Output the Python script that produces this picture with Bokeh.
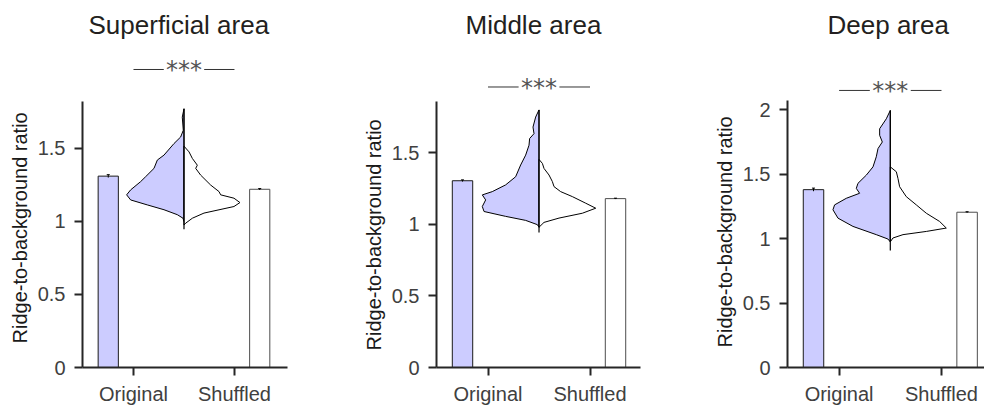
from bokeh.plotting import figure
from bokeh.layouts import row
from bokeh.models import FixedTicker, Range1d, Title
from bokeh.core.properties import value
from bokeh.embed import file_html
from bokeh.resources import INLINE

# ---------------- data ----------------
titles = ["Superficial area", "Middle area", "Deep area"]
y_label = "Ridge-to-background ratio"
categories = ["Original", "Shuffled"]
category_x = [1, 2]
bar_x = [0.75, 2.25]
violin_x = 1.5

orig_mean = [1.31, 1.305, 1.38]
shuf_mean = [1.22, 1.18, 1.205]
orig_err = [0.010, 0.006, 0.012]
shuf_err = [0.005, 0.003, 0.004]

sig_y = [2.04, 1.96, 2.15]
sig_text = "***"

y_ticks = [[0, 0.5, 1, 1.5], [0, 0.5, 1, 1.5], [0, 0.5, 1, 1.5, 2]]
y_axis_top = [1.82, 1.86, 2.07]
y_view_top = [2.170, 2.215, 2.460]
x_view = [(0.495, 2.525), (0.495, 2.495), (0.496, 2.42)]

# violin half profiles: value levels and half widths (x units)
v1_orig_y = [1.771, 1.714, 1.624, 1.578, 1.533, 1.454, 1.42, 1.363, 1.306, 1.272, 1.216, 1.182, 1.147, 1.113, 1.08, 1.046, 1.022, 1.0]
v1_orig_w = [0, 0.017, 0.007, 0.033, 0.099, 0.198, 0.264, 0.297, 0.38, 0.43, 0.528, 0.568, 0.528, 0.363, 0.198, 0.066, 0.01, 0]
v1_shuf_y = [1.515, 1.476, 1.431, 1.385, 1.363, 1.317, 1.249, 1.204, 1.182, 1.159, 1.129, 1.102, 1.057, 1.022, 0.988, 0.975]
v1_shuf_w = [0, 0.05, 0.083, 0.132, 0.116, 0.165, 0.264, 0.347, 0.363, 0.495, 0.554, 0.495, 0.198, 0.083, 0.017, 0]

v2_orig_y = [1.80, 1.75, 1.68, 1.634, 1.60, 1.553, 1.484, 1.415, 1.333, 1.276, 1.229, 1.206, 1.171, 1.125, 1.09, 1.056, 1.028, 0.998, 0.98]
v2_orig_w = [0, 0.033, 0.059, 0.049, 0.092, 0.098, 0.131, 0.18, 0.229, 0.327, 0.458, 0.556, 0.523, 0.556, 0.539, 0.327, 0.131, 0.016, 0]
v2_shuf_y = [1.454, 1.426, 1.391, 1.345, 1.299, 1.264, 1.229, 1.194, 1.148, 1.113, 1.078, 1.044, 1.014, 0.98]
v2_shuf_w = [0, 0.033, 0.049, 0.098, 0.131, 0.147, 0.212, 0.327, 0.458, 0.556, 0.425, 0.196, 0.049, 0]

v3_orig_y = [1.995, 1.93, 1.853, 1.802, 1.75, 1.699, 1.635, 1.557, 1.493, 1.429, 1.39, 1.352, 1.313, 1.262, 1.224, 1.159, 1.095, 1.031, 0.997, 0.975]
v3_orig_w = [0, 0.039, 0.104, 0.104, 0.078, 0.12, 0.137, 0.169, 0.234, 0.316, 0.332, 0.30, 0.43, 0.544, 0.56, 0.511, 0.365, 0.137, 0.023, 0]
v3_shuf_y = [1.557, 1.519, 1.467, 1.403, 1.326, 1.262, 1.197, 1.133, 1.082, 1.056, 1.031, 1.005, 0.975]
v3_shuf_w = [0, 0.059, 0.075, 0.091, 0.156, 0.254, 0.352, 0.482, 0.547, 0.352, 0.124, 0.026, 0]

violin_min = [0.946, 0.944, 0.907]

orig_profiles = [(v1_orig_y, v1_orig_w), (v2_orig_y, v2_orig_w), (v3_orig_y, v3_orig_w)]
shuf_profiles = [(v1_shuf_y, v1_shuf_w), (v2_shuf_y, v2_shuf_w), (v3_shuf_y, v3_shuf_w)]

# ---------------- style / layout ----------------
FONT = "Liberation Sans"
LAV = "#ccccff"
H = 411
fig_w = [354, 351, 279]
border_l = [82, 82, 82]
border_r = [67, 65, 0]
title_offset = [6, 29, 40]
ylabel_offset = [24, 17, 20]
bar_w = 0.2
sig_gap = 0.2


def panel(i):
    p = figure(width=fig_w[i], height=H, output_backend="svg", toolbar_location=None,
               x_range=Range1d(*x_view[i]), y_range=Range1d(0, y_view_top[i]),
               min_border_left=border_l[i], min_border_right=border_r[i],
               min_border_top=48, min_border_bottom=44)
    p.outline_line_color = None
    p.xgrid.visible = False
    p.ygrid.visible = False

    p.title.text = titles[i]
    p.title.text_font = FONT
    p.title.text_font_size = "26px"
    p.title.text_font_style = "normal"
    p.title.text_color = "#231f20"
    p.title.align = "left"
    p.title.vertical_align = "top"
    p.title.offset = title_offset[i]
    p.title.standoff = 18

    for ax in (p.xaxis, p.yaxis):
        ax.axis_line_color = "#262626"
        ax.axis_line_width = 2
        ax.major_tick_line_color = "#262626"
        ax.major_tick_line_width = 2
        ax.major_tick_in = 0
        ax.major_tick_out = 8
        ax.minor_tick_line_color = None
        ax.major_label_text_font = FONT
        ax.major_label_text_font_size = "20px"
        ax.major_label_text_color = "#404040"
        ax.major_label_standoff = 9

    p.xaxis.ticker = FixedTicker(ticks=category_x)
    p.xaxis.major_label_overrides = {c: n for c, n in zip(category_x, categories)}
    p.xaxis.major_label_standoff = 7

    p.yaxis.bounds = (0, y_axis_top[i])
    p.yaxis.ticker = FixedTicker(ticks=y_ticks[i])
    p.yaxis.major_label_overrides = {t: ("%g" % t) for t in y_ticks[i]}

    # y-axis title as a side title, started near the bottom of the axis line
    p.add_layout(Title(text=y_label, align="left", offset=ylabel_offset[i], standoff=8,
                       text_font=FONT, text_font_size="20px", text_font_style="normal",
                       text_color="#1a1a1a"), "left")

    # bars
    p.vbar(x=[bar_x[0]], top=[orig_mean[i]], width=bar_w, bottom=0,
           fill_color=LAV, line_color="#1a1a1a", line_width=1)
    p.vbar(x=[bar_x[1]], top=[shuf_mean[i]], width=bar_w, bottom=0,
           fill_color="white", line_color="#4d4d4d", line_width=1)
    means = [orig_mean[i], shuf_mean[i]]
    errs = [orig_err[i], shuf_err[i]]
    p.segment(x0=bar_x, x1=bar_x,
              y0=[m - e for m, e in zip(means, errs)],
              y1=[m + e for m, e in zip(means, errs)],
              line_color="black", line_width=1)
    p.segment(x0=[b - 0.015 for b in bar_x], x1=[b + 0.015 for b in bar_x],
              y0=[m + e for m, e in zip(means, errs)],
              y1=[m + e for m, e in zip(means, errs)],
              line_color="black", line_width=1)

    # violin halves
    oy, ow = orig_profiles[i]
    sy, sw = shuf_profiles[i]
    p.patch(x=[violin_x - w for w in ow] + [violin_x, violin_x],
            y=list(oy) + [oy[-1], oy[0]],
            fill_color=LAV, line_color="black", line_width=1)
    p.patch(x=[violin_x + w for w in sw] + [violin_x, violin_x],
            y=list(sy) + [sy[-1], sy[0]],
            fill_color="white", line_color="black", line_width=1)
    p.segment(x0=[violin_x], x1=[violin_x], y0=[violin_min[i]], y1=[oy[0]],
              line_color="black", line_width=1.2)

    # significance
    p.segment(x0=[category_x[0], violin_x + sig_gap], x1=[violin_x - sig_gap, category_x[1]],
              y0=[sig_y[i], sig_y[i]], y1=[sig_y[i], sig_y[i]],
              line_color="#333333", line_width=1)
    p.text(x=[violin_x], y=[sig_y[i]], text=[sig_text], text_align="center",
           text_baseline="alphabetic", y_offset=1,
           text_font=value("DejaVu Sans"), text_font_size="24px", text_color="#555555")
    return p


panels = [panel(i) for i in range(3)]
layout = row(*panels)
open("out.html", "w").write(file_html(layout, INLINE))
